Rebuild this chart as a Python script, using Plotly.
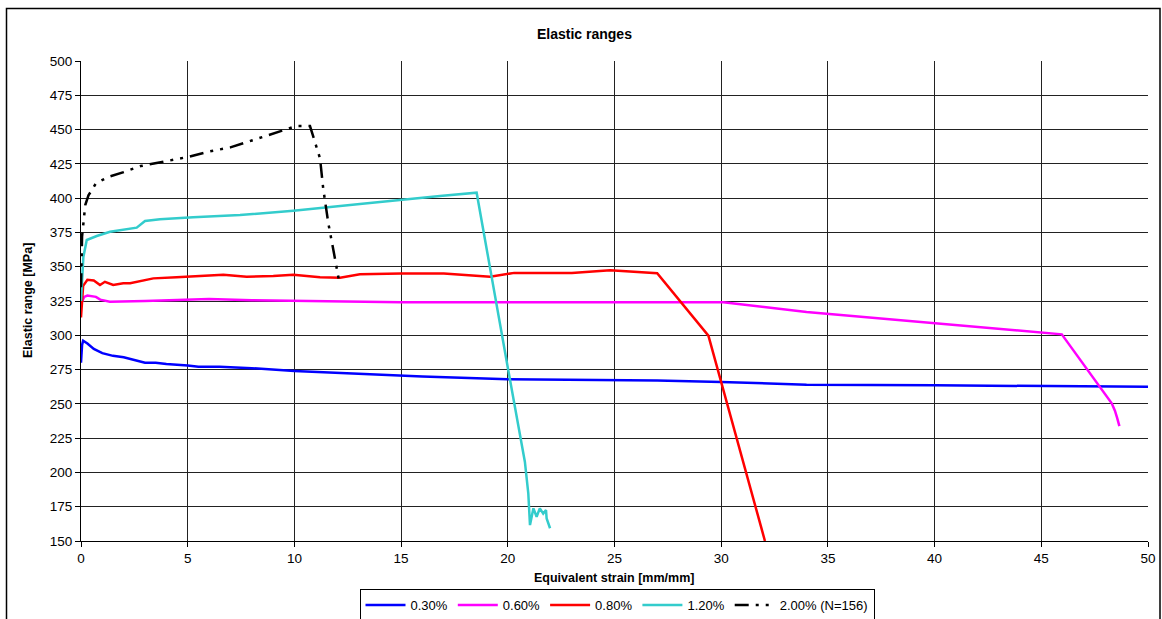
import plotly.graph_objects as go

# ---- data ----
x_030 = [0, 0.05, 0.1, 0.3, 0.6, 1.0, 1.5, 2.0, 2.5, 3.0, 3.5, 4.0, 5.0, 5.5, 6.5, 8.0, 10.0, 13.0, 16.0, 20.0, 24.0, 27.0, 30.0, 34.0, 40.0, 45.0, 50.0]
y_030 = [280, 293, 296, 294, 290, 287, 285, 284, 282, 280, 280, 279, 278, 277, 277, 276, 274, 272, 270, 268, 267.5, 267, 266, 264, 263.5, 263, 262.5]

x_060 = [0, 0.15, 0.3, 0.7, 0.9, 1.35, 3.0, 6.0, 8.0, 10.0, 15.0, 20.0, 25.0, 30.1, 34.0, 40.0, 45.96, 48.3, 48.45, 48.55, 48.66]
y_060 = [323, 328, 329, 328, 326, 324.5, 325, 326.5, 325.5, 325, 324, 324, 323.8, 324, 317, 309, 300.7, 250.4, 245, 240, 233.8]

x_080 = [0, 0.1, 0.3, 0.6, 0.89, 1.12, 1.51, 1.98, 2.3, 3.39, 4.48, 6.67, 7.76, 9.01, 9.95, 11.2, 12.14, 13.07, 15.0, 17.0, 19.17, 20.3, 23.0, 24.8, 27.0, 29.4, 32.05]
y_080 = [313, 336, 340.5, 340, 336.7, 339, 336.7, 338, 338, 341.5, 342.3, 344.2, 342.7, 343.2, 344.2, 342.3, 342, 344.5, 345, 345, 342.7, 345.5, 345.5, 347.5, 345.2, 299.7, 150.0]

x_120 = [0, 0.11, 0.27, 0.74, 1.36, 2.61, 3.0, 3.7, 5.26, 7.45, 9.95, 11.51, 13.07, 16.82, 18.54, 20.02, 20.8, 20.96, 21.04, 21.2, 21.35, 21.5, 21.66, 21.79, 21.82, 21.98]
y_120 = [325, 357, 369.5, 372.4, 375.5, 378.5, 383.3, 384.6, 386, 387.7, 390.8, 393, 395.7, 401.6, 404, 274.7, 207.8, 184.8, 161.6, 173.8, 167.7, 173.8, 170, 172.6, 166.4, 159.3]

x_200 = [0, 0.05, 0.2, 0.35, 0.7, 1.3, 2.0, 2.8, 4.0, 5.0, 6.0, 7.0, 8.0, 9.0, 10.1, 10.73, 10.97, 11.2, 11.35, 11.59, 11.9, 12.1]
y_200 = [335, 372, 395, 402, 410.8, 415.6, 419, 423.4, 427, 430, 434, 437, 442, 447, 452.6, 452.6, 441, 429, 407, 381.7, 356, 339]

series = [
    ("0.30%", x_030, y_030, "#0000FF", "solid"),
    ("0.60%", x_060, y_060, "#FF00FF", "solid"),
    ("0.80%", x_080, y_080, "#FF0000", "solid"),
    ("1.20%", x_120, y_120, "#33CCCC", "solid"),
    ("2.00% (N=156)", x_200, y_200, "#000000", "14px,7px,3px,7px,3px,7px"),
]

FONT = "Liberation Sans, Arial, sans-serif"

fig = go.Figure()
for name, xs, ys, col, dash in series:
    fig.add_trace(go.Scatter(x=xs, y=ys, mode="lines", name=name,
                             line=dict(color=col, width=2.5, dash=dash)))

W, H = 1162, 619
L, R, T, B = 81, 14, 61, 78
pw, ph = W - L - R, H - T - B

def px_x(p):
    return (p - L) / pw

def px_y(p):
    return (H - B - p) / ph

fig.update_layout(
    width=W, height=H,
    margin=dict(l=L, r=R, t=T, b=B, autoexpand=False),
    paper_bgcolor="white", plot_bgcolor="white",
    font=dict(family=FONT, size=13, color="black"),
    showlegend=True,
    legend=dict(orientation="h",
                xref="container", yref="container",
                x=617 / W, xanchor="center",
                y=1 - 589 / H, yanchor="top",
                bordercolor="black", borderwidth=1,
                font=dict(size=13), itemwidth=40,
                tracegroupgap=0),
    xaxis=dict(range=[0, 50], dtick=5, tick0=0, showgrid=True,
               gridcolor="#222222", gridwidth=1,
               showline=True, linecolor="black", linewidth=1,
               ticks="outside", ticklen=5, tickcolor="black",
               zeroline=False, tickfont=dict(size=13.5), automargin=False),
    yaxis=dict(range=[150, 500], dtick=25, tick0=150, showgrid=True,
               gridcolor="#222222", gridwidth=1,
               showline=True, linecolor="black", linewidth=1,
               ticks="outside", ticklen=5, tickcolor="black",
               zeroline=False, tickfont=dict(size=13.5), automargin=False),
    annotations=[
        dict(text="<b>Elastic ranges</b>", xref="paper", yref="paper",
             x=px_x(584), y=px_y(34), xanchor="center", yanchor="middle",
             showarrow=False, font=dict(size=14)),
        dict(text="<b>Equivalent strain [mm/mm]</b>", xref="paper", yref="paper",
             x=px_x(614), y=px_y(578), xanchor="center", yanchor="middle",
             showarrow=False, font=dict(size=12.5)),
        dict(text="<b>Elastic range [MPa]</b>", xref="paper", yref="paper",
             x=px_x(28), y=px_y(301), xanchor="center", yanchor="middle",
             textangle=-90, showarrow=False, font=dict(size=12.5)),
    ],
    shapes=[
        dict(type="rect", xref="paper", yref="paper",
             x0=px_x(6.5), x1=px_x(1160), y0=px_y(640), y1=px_y(8.5),
             line=dict(color="black", width=1.5), fillcolor="rgba(0,0,0,0)",
             layer="below"),
    ],
)

fig.write_html("out.html")
